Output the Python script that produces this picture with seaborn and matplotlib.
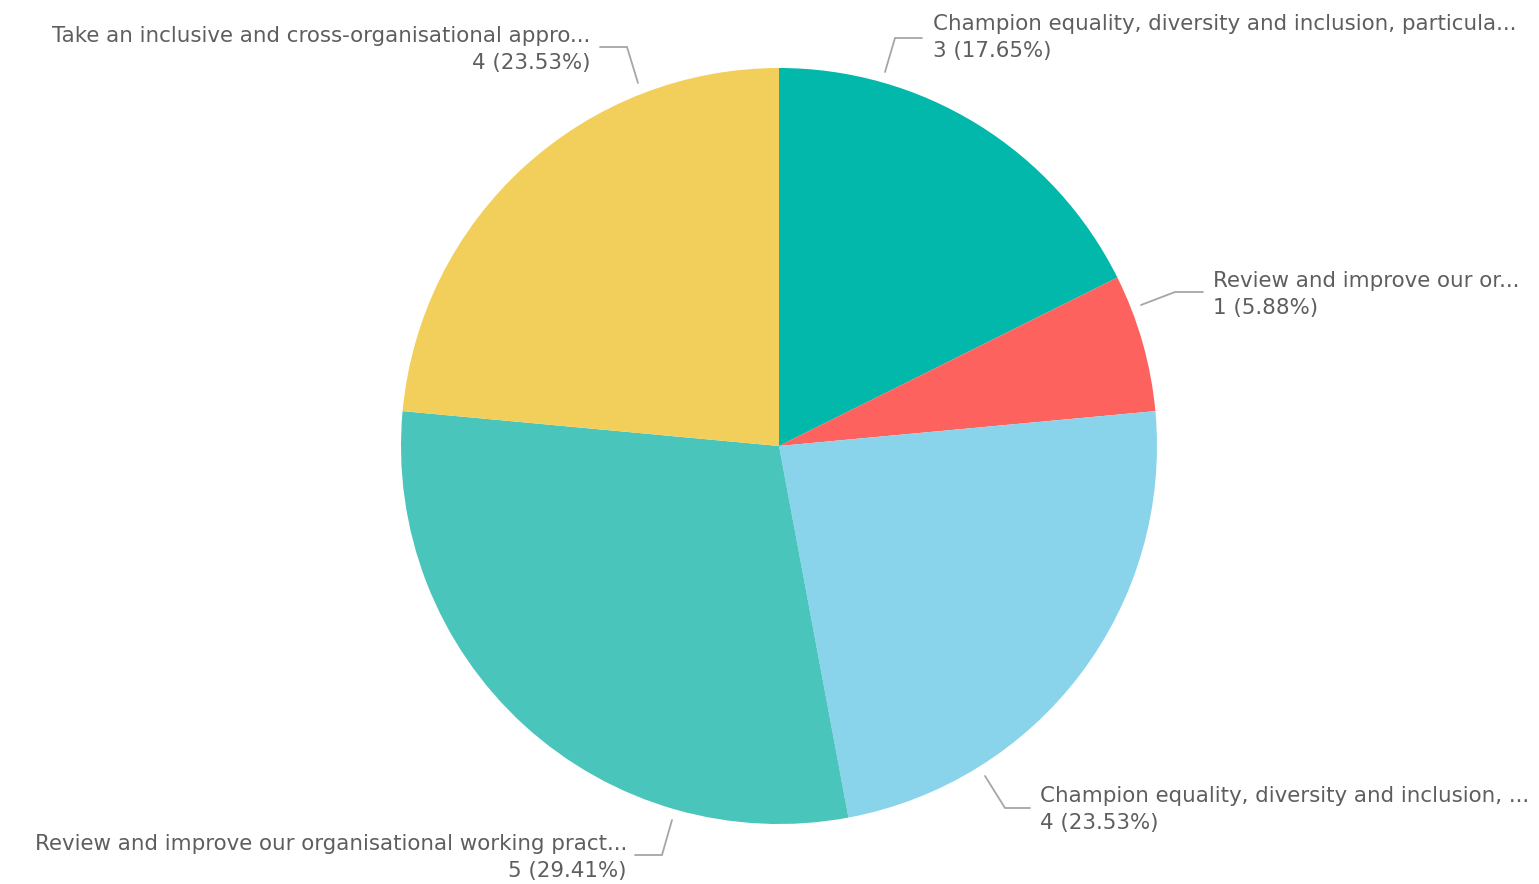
import matplotlib
matplotlib.use('Agg')
import matplotlib.pyplot as plt
import seaborn as sns

# --- data (clockwise from 12 o'clock) ---
labels = [
    'Champion equality, diversity and inclusion, particula...',
    'Review and improve our or...',
    'Champion equality, diversity and inclusion, ...',
    'Review and improve our organisational working pract...',
    'Take an inclusive and cross-organisational appro...',
]
counts = [3, 1, 4, 5, 4]
colors = ['#01B8AA', '#FD625E', '#8AD4EB', '#4AC5BB', '#F2CF5A']

# --- label layout in pixel coords: leader line points, text x, text align ---
leaders = [
    [(885, 72), (895, 38), (922, 38)],
    [(1141, 305), (1175, 292), (1203, 292)],
    [(985, 776), (1005, 808), (1030, 808)],
    [(672, 820), (662, 855), (635, 855)],
    [(638, 83), (627, 47), (600, 47)],
]
text_x = [933, 1213, 1040, 627, 590]
text_y = [24, 281, 796, 844, 36]
aligns = ['left', 'left', 'left', 'right', 'right']

W, H = 1539, 884
CENTER = (779, 446)
RADIUS = 378
TEXT_COLOR = '#605E5C'
LINE_COLOR = '#A6A6A6'

sns.set_style('white')
plt.rcParams['font.family'] = ['DejaVu Sans']

fig = plt.figure(figsize=(W / 100, H / 100), dpi=100)
ax = fig.add_axes([0, 0, 1, 1])

# y axis is inverted below, so counterclock=True reads clockwise on screen
ax.pie(counts, colors=colors, startangle=-90, counterclock=True,
       center=CENTER, radius=RADIUS, wedgeprops=dict(linewidth=0))

ax.set_xlim(0, W)
ax.set_ylim(H, 0)
ax.set_aspect('auto')
ax.axis('off')

total = sum(counts)
for lab, n, pts, tx, ty, ha in zip(labels, counts, leaders, text_x, text_y, aligns):
    xs, ys = zip(*pts)
    ax.plot(xs, ys, color=LINE_COLOR, lw=1.3, solid_joinstyle='miter')
    ax.text(tx, ty, lab, ha=ha, va='center', fontsize=15.4, color=TEXT_COLOR)
    ax.text(tx, ty + 27, f'{n} ({n / total:.2%})', ha=ha, va='center',
            fontsize=15.4, color=TEXT_COLOR)

fig.savefig('out.png', dpi=100, facecolor='white')
